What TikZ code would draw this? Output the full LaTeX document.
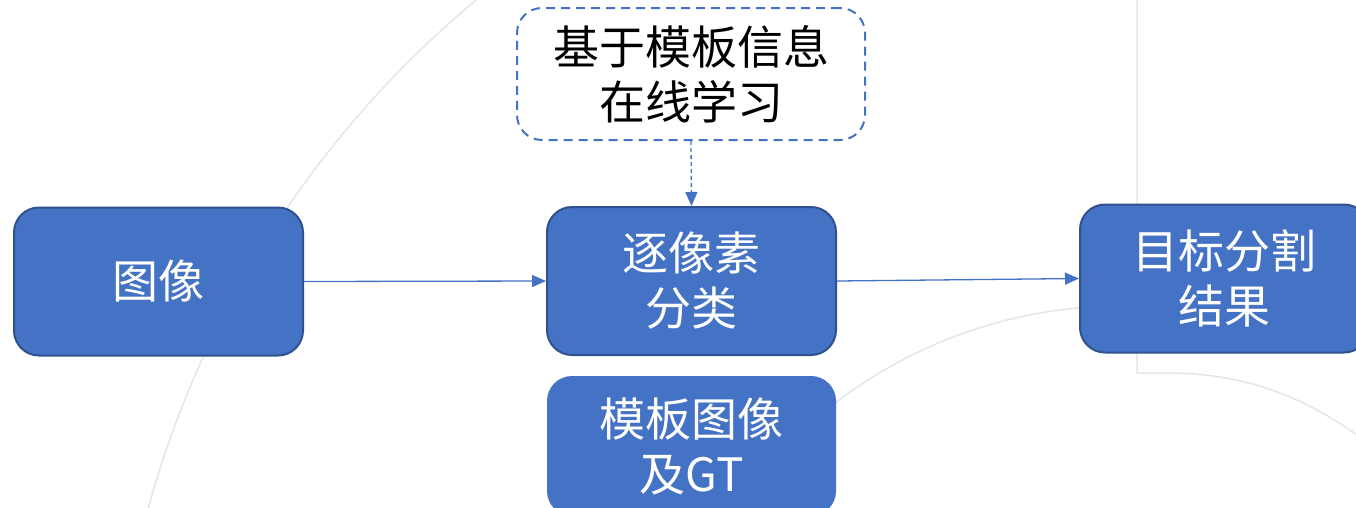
\documentclass[tikz,border=0pt]{standalone}
\usepackage{fontspec}
\newfontfamily\cjk{Noto Sans CJK SC}
\usetikzlibrary{arrows.meta}
\definecolor{blu}{HTML}{4472C4}
\definecolor{blud}{HTML}{2F528F}
\definecolor{bg}{HTML}{E6E6E6}
\tikzset{
  bluebox/.style={rectangle, rounded corners=25pt, fill=blu, draw=blud, line width=2pt,
    minimum width=289pt, minimum height=148pt, text=white, align=center,
    font=\cjk\fontsize{46}{55}\selectfont, inner sep=0pt},
  plainbox/.style={bluebox, draw=none},
  dashbox/.style={rectangle, rounded corners=25pt, fill=white, draw=blu, line width=2pt,
    dash pattern=on 9pt off 6pt, minimum width=348pt, minimum height=132pt, text=black,
    align=center, font=\cjk\fontsize{46}{55}\selectfont, inner sep=0pt},
  conn/.style={draw=blu, line width=1.3pt, -{Triangle[length=14pt,width=12pt]}},
  dconn/.style={conn, dash pattern=on 4pt off 3pt},
  bgline/.style={draw=bg, line width=1.5pt}
}
\begin{document}
\begin{tikzpicture}[x=1pt,y=-1pt]
\useasboundingbox (0,0) rectangle (1356,507);
\fill[white] (0,0) rectangle (1356,507);
\clip (0,0) rectangle (1356,507);
% faint background lines
\draw[bgline] plot[domain=125:170, samples=60] ({1121+1009*cos(\x)},{776-1009*sin(\x)});
\draw[bgline] plot[domain=135:92, samples=40] ({1121+470*cos(\x)},{776-470*sin(\x)});
\draw[bgline] (1137,0) -- (1137,373) -- (1175,373) .. controls (1250,375) and (1305,398) .. (1360,437);
% nodes
\node[bluebox] (img) at (158.5,281.5) {图像};
\node[bluebox] (cls) at (691.5,281) {逐像素\\分类};
\node[bluebox] (res) at (1224.5,278.5) {目标分割\\结果};
\node[plainbox, minimum height=140pt] (tpl) at (691.5,446) {模板图像\\及GT};
\node[dashbox] (onl) at (691,74) {基于模板信息\\在线学习};
% connectors
\draw[conn] (img.east) -- (cls.west);
\draw[conn] (cls.east) -- (res.west);
\draw[dconn] (onl.south) -- (cls.north);
\end{tikzpicture}
\end{document}
